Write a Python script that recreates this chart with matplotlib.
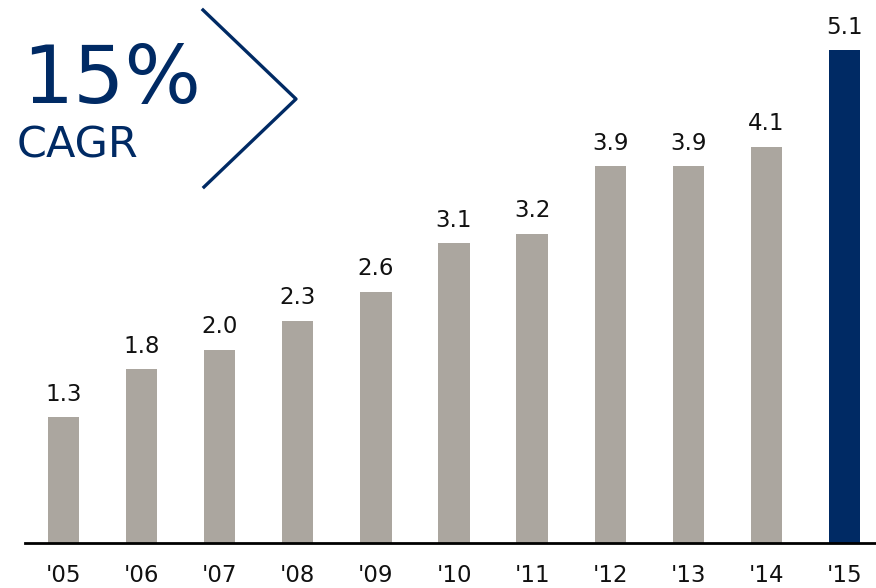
import matplotlib
matplotlib.use("Agg")
from matplotlib import pyplot as plt
from matplotlib.lines import Line2D

years = ["'05", "'06", "'07", "'08", "'09", "'10", "'11", "'12", "'13", "'14", "'15"]
values = [1.3, 1.8, 2.0, 2.3, 2.6, 3.1, 3.2, 3.9, 3.9, 4.1, 5.1]

gray = "#aba69f"
navy = "#002a64"

W, H = 876, 588
fig = plt.figure(figsize=(W / 100, H / 100), dpi=100)
ax = fig.add_axes([25 / W, 45 / H, 851 / W, 543 / H])

colors = [gray] * (len(values) - 1) + [navy]
x = list(range(len(values)))
bars = ax.bar(x, values, width=0.4, color=colors)

for b, v in zip(bars, values):
    ax.annotate(f"{v:.1f}", (b.get_x() + b.get_width() / 2, v),
                xytext=(0, 8), textcoords="offset points",
                ha="center", va="bottom", fontsize=16.5, color="#111111")

ax.set_xlim(-0.493, 10.403)
ax.set_ylim(0, 5.615)
ax.set_xticks(x)
ax.set_xticklabels(years, fontsize=16.5, color="#111111")
ax.tick_params(axis="x", length=0, pad=15)
ax.set_yticks([])
for s in ["top", "left", "right"]:
    ax.spines[s].set_visible(False)
ax.spines["bottom"].set_linewidth(2)
ax.spines["bottom"].set_color("black")

# CAGR callout
fig.text(22 / W, 1 - 103 / H, "15%", fontsize=58, color=navy, ha="left", va="baseline")
fig.text(17 / W, 1 - 158 / H, "CAGR", fontsize=31, color=navy, ha="left", va="baseline")
chev = Line2D([203 / W, 296 / W, 204 / W], [1 - 10 / H, 1 - 99 / H, 1 - 187 / H],
              transform=fig.transFigure, color=navy, lw=2.4)
fig.add_artist(chev)

plt.savefig("out.png", dpi=100)
